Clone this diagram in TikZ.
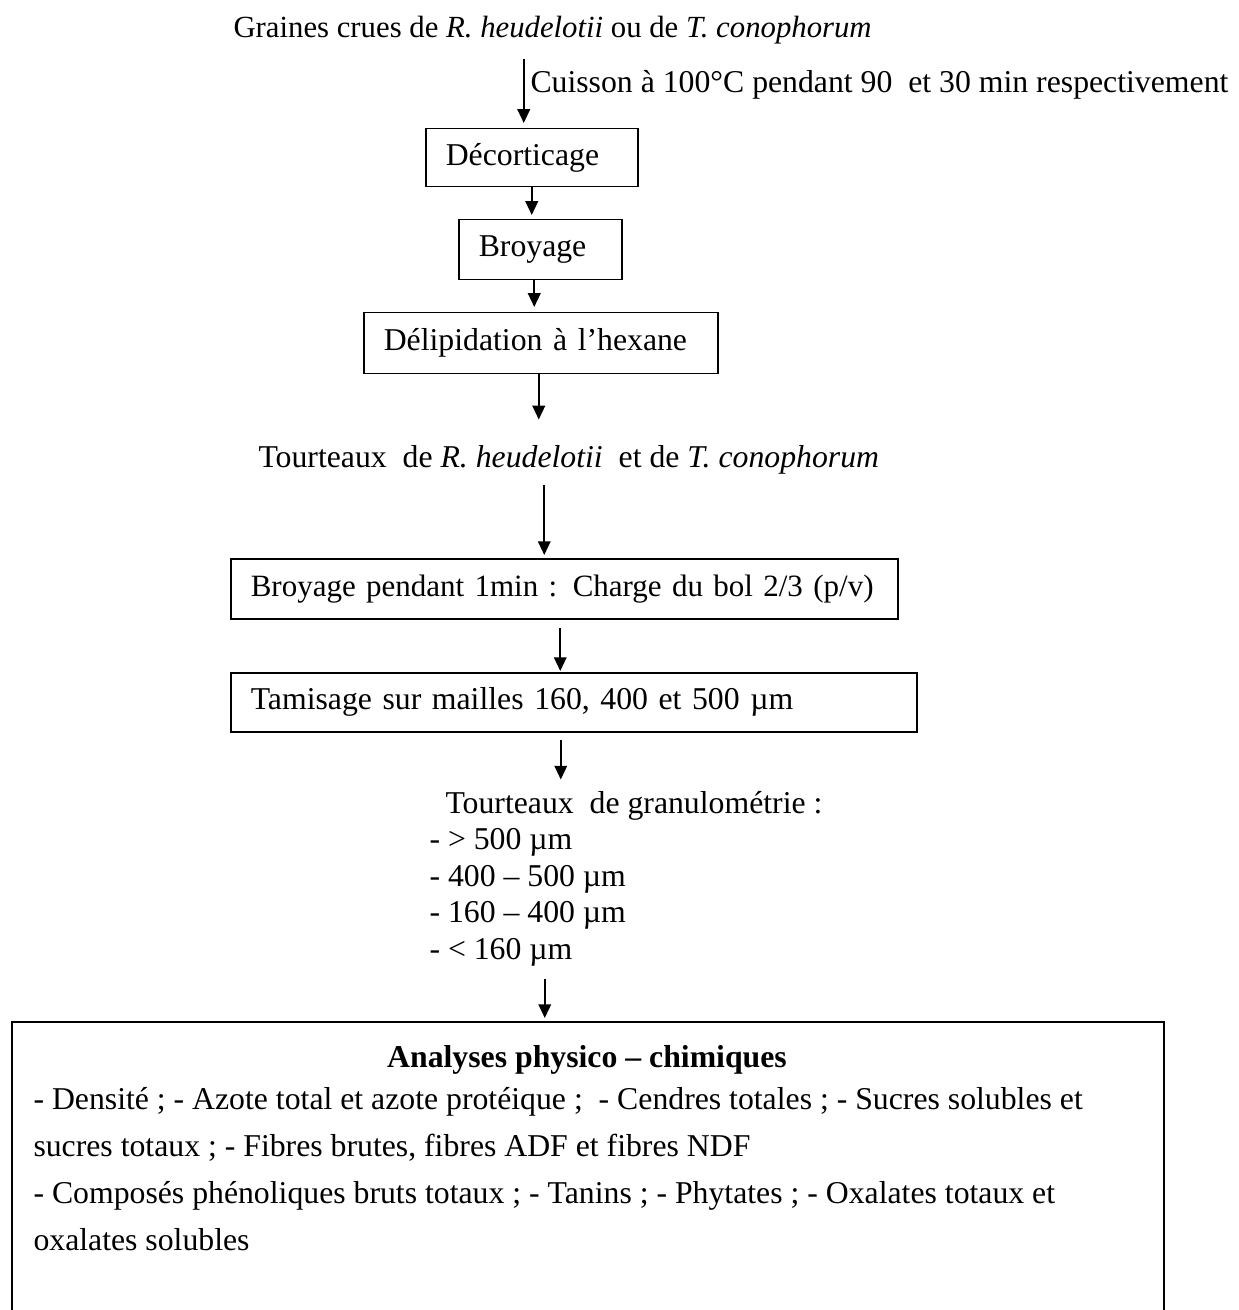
\documentclass[tikz,border=0pt]{standalone}
\usepackage{fontspec}
\setmainfont{Liberation Serif}
\usepackage{tikz}
\usetikzlibrary{arrows.meta,calc,positioning}
\tikzset{
  stage/.style={draw, line width=0.6pt, font=\fontsize{12.7}{14}\selectfont,
    inner xsep=8pt, inner ysep=0pt, align=left, anchor=north west},   % process boxes
  txt/.style={font=\fontsize{12.7}{14}\selectfont, inner sep=0pt, anchor=base west},
  frame/.style={draw, line width=0.6pt, anchor=north west, inner sep=0pt},
  flow/.style={-{Triangle[length=5.5pt,width=5pt]}, line width=0.8pt}
}

\begin{document}
\begin{tikzpicture}[x=0.4pt,y=-0.4pt]
  \useasboundingbox (0,0) rectangle (1238,1310);

  % inputs and steps
  \node[txt, font=\fontsize{12.3}{14}\selectfont] (graines) at (233,38) {Graines crues de \textit{R. heudelotii} ou de \textit{T. conophorum}};
  \node[txt] (cuisson) at (530,93) {Cuisson à 100°C pendant 90\ \ et 30 min respectivement};
  \node[stage, text width=68.8pt, minimum height=23.2pt] (decort) at (425,128) {Décorticage};
  \node[stage, text width=49.2pt, minimum height=24pt] (broyA) at (458,219) {Broyage};
  \node[stage, text width=125.6pt, minimum height=24.4pt] (delip) at (363,312) {Délipidation à l’hexane};

  \node[txt] (tourteaux) at (258,467) {Tourteaux\ \ de \textit{R. heudelotii}\ \ et de \textit{T. conophorum}};
  \node[stage, text width=250.8pt, minimum height=24pt, font=\fontsize{12.4}{14}\selectfont] (broyB) at (230,558) {\mbox{Broyage pendant 1min : Charge du bol 2/3 (p/v)}};
  \node[stage, text width=258.4pt, minimum height=23.6pt] (tamis) at (230,672) {Tamisage sur mailles 160, 400 et 500 µm};

  % base of a multi-line node = last line
  \node[txt, align=left, font=\fontsize{12.7}{14.6}\selectfont] (granulo) at (429,959)
    {\hspace*{6.4pt}Tourteaux\ \ de granulométrie :\\- > 500 µm\\- 400 – 500 µm\\- 160 – 400 µm\\- < 160 µm};

  % analyses
  \node[frame, minimum width=460.8pt, minimum height=132pt] (analyses) at (11,1021) {};
  \node[txt, anchor=base] (titre) at (587,1067) {\bfseries Analyses physico – chimiques};
  \node[txt, align=left, font=\fontsize{12.7}{18.8}\selectfont] (liste) at (33,1250)
    {- Densité ; - Azote total et azote protéique ;\ \ - Cendres totales ; - Sucres solubles et\\
     sucres totaux ; - Fibres brutes, fibres ADF et fibres NDF\\
     - Composés phénoliques bruts totaux ; - Tanins ; - Phytates ; - Oxalates totaux et\\
     oxalates solubles};

  % arrows
  \draw[flow] ($(graines.south -| decort.north)+(-8,14)$) -- ($(decort.north)+(-8,-5)$);
  \draw[flow] (decort.south) -- ($(decort.south |- broyA.north)+(0,-4)$);
  \draw[flow] ($(broyA.south)+(-6,0)$) -- ($(broyA.south |- delip.north)+(-6,-5)$);
  \draw[flow] ($(delip.south)+(-2,0)$) -- ($(delip.south)+(-2,45)$);
  \draw[flow] ($(tourteaux.south -| broyB.north)+(-20,11)$) -- ($(broyB.north)+(-20,-3)$);
  \draw[flow] ($(broyB.south)+(-4,8)$) -- ($(broyB.south |- tamis.north)+(-4,-1)$);
  \draw[flow] ($(tamis.south)+(-13,7)$) -- ($(tamis.south)+(-13,47)$);
  \draw[flow] ($(analyses.north)+(-43,-42)$) -- ($(analyses.north)+(-43,-3)$);
\end{tikzpicture}
\end{document}
